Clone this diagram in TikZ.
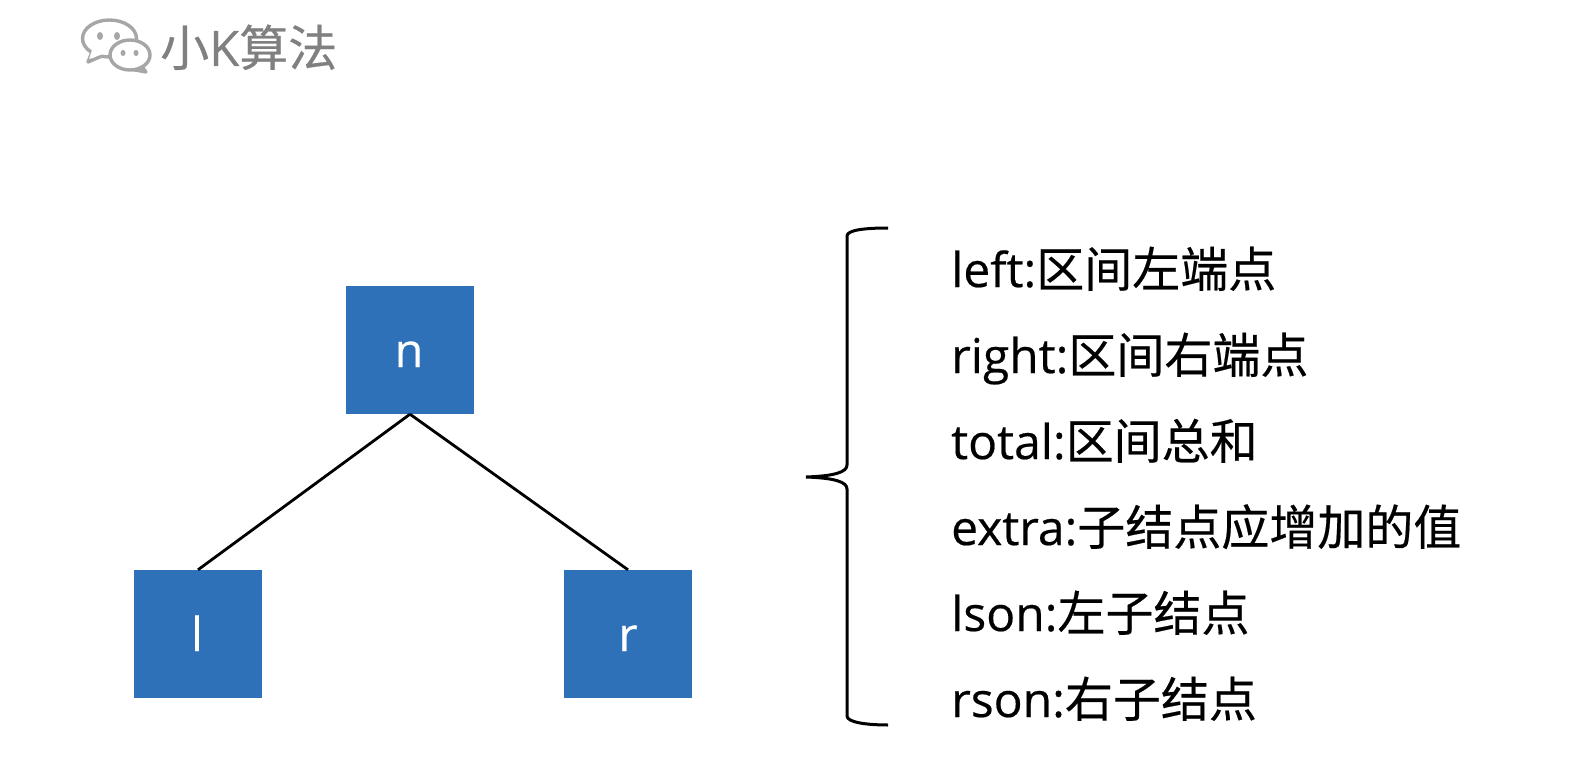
\documentclass[tikz,border=0pt]{standalone}
\usepackage{fontspec}
\setmainfont[FakeBold=0.4]{Open Sans}
\newfontfamily\cjk[FakeBold=0.4]{Noto Sans CJK SC}
\newcommand{\zh}[1]{{\cjk #1}}
\definecolor{boxblue}{HTML}{2E71B9}
\definecolor{logogray}{HTML}{808080}
\definecolor{icongray}{HTML}{A6A6A6}
\tikzset{
  treebox/.style={draw=none,fill=boxblue,minimum size=128pt,inner sep=0pt},
  boxlabel/.style={anchor=base,inner sep=0pt,text=white,font=\fontsize{47}{47}\selectfont},
  link/.style={draw=black,line width=2.8pt},
  brace/.style={draw=black,line width=3pt},
  field/.style={anchor=base west,inner sep=0pt,font=\fontsize{48}{48}\selectfont},
  iconline/.style={draw=icongray,line width=3.4pt,fill=white,line join=round},
  icondot/.style={fill=icongray,draw=none}
}
\begin{document}
\begin{tikzpicture}[x=1pt,y=-1pt]
\useasboundingbox (0,0) rectangle (1590,770);
\fill[white] (0,0) rectangle (1590,770);
% logo icon
\draw[iconline] (92,52) -- (88,62) -- (102,56) -- cycle;
\draw[iconline] (109.5,38.5) ellipse (27pt and 18.5pt);
\fill[white] (89,59) -- (103,54) -- (97,48) -- (92,50) -- cycle;
\draw[iconline] (140,64) -- (146,72) -- (130,69) -- cycle;
\draw[iconline] (130,55) ellipse (20pt and 15pt);
\fill[icondot] (100,36) ellipse (3pt and 4pt);
\fill[icondot] (117,36) ellipse (3pt and 4pt);
\fill[icondot] (123,53) ellipse (2.5pt and 3pt);
\fill[icondot] (136,53) ellipse (2.5pt and 3pt);
\node[anchor=base west,inner sep=0pt,text=logogray,font=\fontsize{49}{49}\selectfont] (logo) at (160,66) {\zh{小}K\zh{算法}};
% tree
\node[treebox] (n) at (410,350) {};
\node[treebox] (l) at (198,634) {};
\node[treebox] (r) at (628,634) {};
\node[boxlabel] (nt) at (409,367) {n};
\node[boxlabel] (lt) at (197,651) {l};
\node[boxlabel] (rt) at (628,651) {r};
\draw[link] (n.south) -- (l.north);
\draw[link] (n.south) -- (r.north);
% brace
\draw[brace] (888,228) .. controls (865,228) and (847,230) .. (847,236) -- (847,465) .. controls (847,472) and (835,476) .. (806,477) .. controls (835,478) and (847,482) .. (847,489) -- (847,716) .. controls (847,722) and (865,725) .. (888,725);
% fields
\node[field] (f1) at (951,287) {left:\zh{区间左端点}};
\node[field] (f2) at (951,373) {right:\zh{区间右端点}};
\node[field] (f3) at (951,459) {total:\zh{区间总和}};
\node[field] (f4) at (951,545) {extra:\zh{子结点应增加的值}};
\node[field] (f5) at (951,631) {lson:\zh{左子结点}};
\node[field] (f6) at (951,717) {rson:\zh{右子结点}};
\end{tikzpicture}
\end{document}
